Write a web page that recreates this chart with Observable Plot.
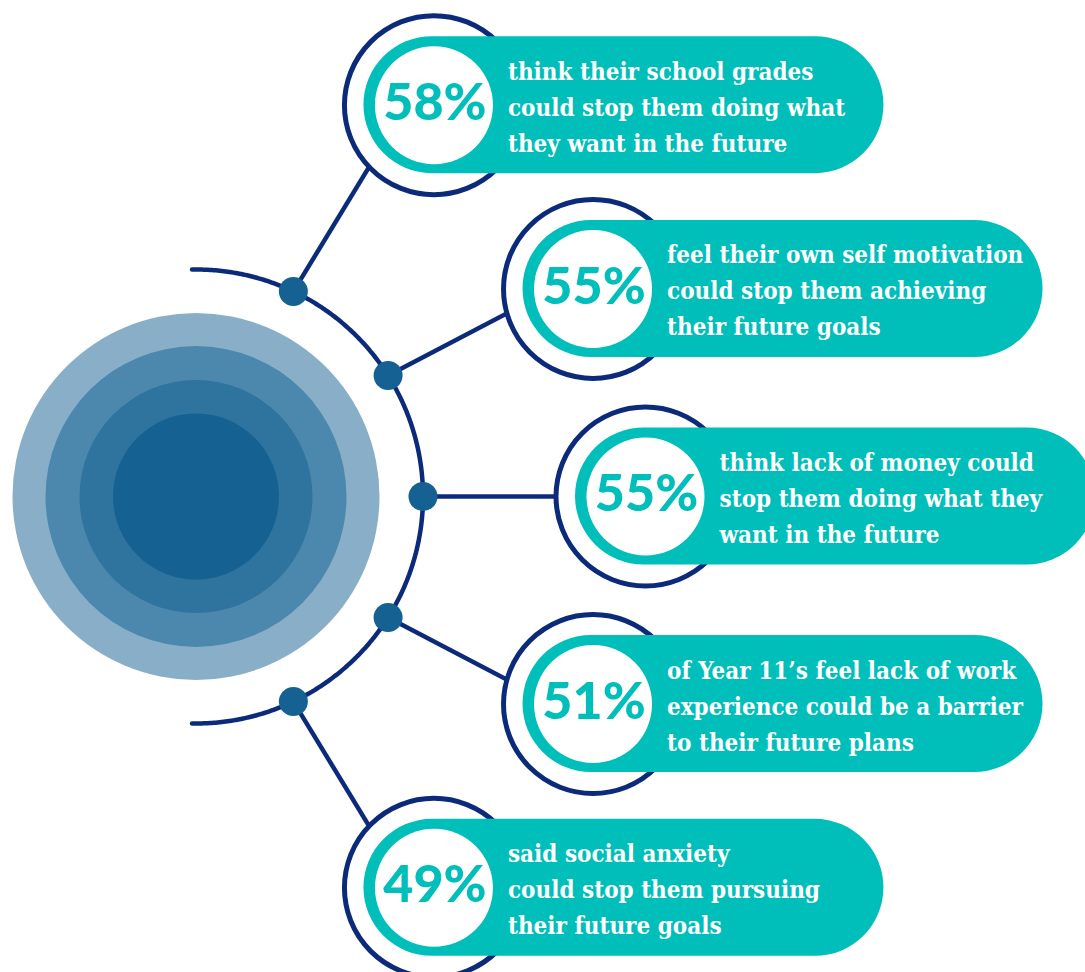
<!DOCTYPE html>
<html>
<head>
<meta charset="utf-8">
<script src="https://cdn.jsdelivr.net/npm/d3@7"></script>
<script src="https://cdn.jsdelivr.net/npm/@observablehq/plot@0.6"></script>
<style>
  html, body { margin: 0; padding: 0; background: #ffffff; }
  #chart svg { display: block; }
</style>
</head>
<body>
<div id="chart"></div>
<script>
// ---------------- DATA ----------------
const percents = [58, 55, 55, 51, 49];
const statementLine1 = [
  "think their school grades",
  "feel their own self motivation",
  "think lack of money could",
  "of Year 11\u2019s feel lack of work",
  "said social anxiety"
];
const statementLine2 = [
  "could stop them doing what",
  "could stop them achieving",
  "stop them doing what they",
  "experience could be a barrier",
  "could stop them pursuing"
];
const statementLine3 = [
  "they want in the future",
  "their future goals",
  "want in the future",
  "to their future plans",
  "their future goals"
];
const hubRings = [1, 2, 3, 4]; // concentric hub discs, outer to inner

// ---------------- LAYOUT (computed, not data) ----------------
const W = 1085, H = 972;
const hub = {x: 195.5, y: 496};
const hubRadii = [183.5, 150.5, 116.5, 83];
const hubColors = ["#89afc8", "#4c88ae", "#2f739f", "#146192"];
const arcR = 227;
const dotAngles = [-64.6, -32.2, 0, 32.2, 64.6];
const itemAngles = [-58.7, -27.6, 0, 27.6, 58.7];
const itemRadii = [458, 448, 449.5, 448, 458];
const rad = a => a * Math.PI / 180;

const navy = "#0b2b7a";
const teal = "#00beba";
const dotBlue = "#146192";

const items = percents.map((p, i) => {
  const cx = hub.x + itemRadii[i] * Math.cos(rad(itemAngles[i]));
  const cy = hub.y + itemRadii[i] * Math.sin(rad(itemAngles[i]));
  const dx = hub.x + arcR * Math.cos(rad(dotAngles[i]));
  const dy = hub.y + arcR * Math.sin(rad(dotAngles[i]));
  const len = itemRadii[i] - arcR;
  return {
    i, pct: p + "%",
    text: [statementLine1[i], statementLine2[i], statementLine3[i]].join("\n"),
    cx, cy, dx, dy,
    ex: dx + len * Math.cos(rad(itemAngles[i])),
    ey: dy + len * Math.sin(rad(itemAngles[i]))
  };
});

const hubData = hubRings.map((k, j) => ({x: hub.x, y: hub.y, r: hubRadii[j], c: hubColors[j]}));
const arcPts = d3.range(-91, 91.01, 0.5).map(a => ({
  x: hub.x + arcR * Math.cos(rad(a)),
  y: hub.y + arcR * Math.sin(rad(a))
}));

const chart = Plot.plot({
  width: W,
  height: H,
  margin: 0,
  x: {domain: [0, W], range: [0, W], axis: null},
  y: {domain: [0, H], range: [0, H], axis: null},
  style: {background: "#ffffff"},
  marks: [
    // hub discs
    ...hubData.map(h => Plot.dot([h], {x: "x", y: "y", r: h.r, fill: h.c, stroke: null})),
    // arc
    Plot.line(arcPts, {x: "x", y: "y", stroke: navy, strokeWidth: 4.5, strokeLinecap: "round", curve: "linear"}),
    // connectors
    Plot.link(items, {x1: "dx", y1: "dy", x2: "ex", y2: "ey", stroke: navy, strokeWidth: 4.5}),
    // dots on arc
    Plot.dot(items, {x: "dx", y: "dy", r: 14.5, fill: dotBlue, stroke: null}),
    // navy outline rings
    Plot.dot(items, {x: "cx", y: "cy", r: 89.5, fill: "#ffffff", stroke: navy, strokeWidth: 5}),
    // pills
    Plot.rect(items, {x1: d => d.cx - 70, x2: d => d.cx + 450, y1: d => d.cy - 68.5, y2: d => d.cy + 68.5, rx: 68.5, fill: teal}),
    // white discs
    Plot.dot(items, {x: "cx", y: "cy", r: 59, fill: "#ffffff", stroke: null}),
    // percentages
    Plot.text(items, {
      x: d => d.cx + 1, y: d => d.cy - 2, text: "pct",
      fill: teal, fontSize: 52, fontWeight: 900, fontFamily: "Lato, 'Open Sans', sans-serif",
      textAnchor: "middle", lineAnchor: "middle"
    }),
    // statements
    Plot.text(items, {
      x: d => d.cx + 74, y: d => d.cy - 1, text: "text",
      fill: "#ffffff", fontSize: 24, fontWeight: 700, lineHeight: 1.5,
      fontFamily: "'DejaVu Serif Condensed', 'DejaVu Serif', serif",
      textAnchor: "start", lineAnchor: "middle"
    })
  ]
});

d3.select(chart).selectAll("text").style("font-stretch", "condensed");
document.getElementById("chart").appendChild(chart);
</script>
</body>
</html>
